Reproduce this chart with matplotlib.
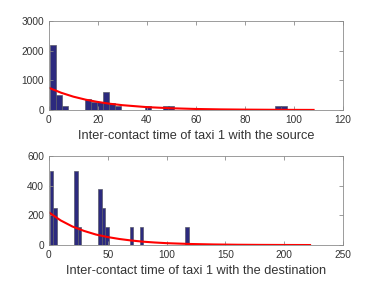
import numpy as np
import matplotlib
matplotlib.use('Agg')
import matplotlib.pyplot as plt

plt.rcParams['font.family'] = ['Liberation Sans', 'DejaVu Sans']

# top panel: histogram of inter-contact times with the source
src_centers = [1.6, 4.05, 6.45, 16.1, 18.5, 20.9, 23.4, 25.8, 28.2,
               40.3, 47.6, 50.0, 93.5, 95.9]
src_counts = [2200, 490, 130, 370, 260, 260, 610, 250, 140,
              130, 130, 130, 130, 130]
# fitted exponential
src_fit_x = [0, 5, 10, 15, 20, 25, 30, 40, 50, 60, 70, 80, 90, 100, 108]
src_fit_y = [750, 582, 450, 349, 271, 210, 163, 97, 59, 35, 21, 13, 8, 4.5, 3]

# bottom panel: inter-contact times with the destination
dst_centers = [2.2, 5.2, 22.9, 25.8, 43.4, 46.4, 49.3, 70.0, 78.8, 117.2]
dst_counts = [500, 250, 500, 125, 375, 250, 125, 125, 125, 125]
dst_fit_x = [0, 10, 20, 30, 40, 50, 60, 70, 80, 90, 100, 120, 140, 160, 180, 200, 222]
dst_fit_y = [220, 166, 125, 95, 71, 54, 41, 31, 23, 17.5, 13, 7.5, 4.3, 2.4, 1.4, 0.8, 0.4]

BAR_FC = '#2c2a7e'
BAR_EC = '#5a5a6a'
AX_C = '#8c8c8c'
TXT_C = '#333333'


def style_axes(ax):
    for s in ax.spines.values():
        s.set_color(AX_C)
        s.set_linewidth(0.6)
    ax.tick_params(direction='in', length=3, width=0.6, color=AX_C,
                   labelsize=7.3, labelcolor=TXT_C, top=True, right=True, pad=3.5)


fig = plt.figure(figsize=(3.79, 2.85), dpi=100)

ax1 = fig.add_axes([0.129, 0.614, 0.776, 0.312])
ax1.bar(src_centers, src_counts, width=2.42, color=BAR_FC, edgecolor=BAR_EC, linewidth=0.5)
ax1.plot(src_fit_x, src_fit_y, color='red', lw=1.5)
ax1.set_xlim(0, 120)
ax1.set_ylim(0, 3000)
ax1.set_xticks(range(0, 121, 20))
ax1.set_yticks(range(0, 3001, 1000))
ax1.set_xlabel('Inter-contact time of taxi 1 with the source', fontsize=9.2, color=TXT_C, labelpad=3.5)
style_axes(ax1)

ax2 = fig.add_axes([0.129, 0.140, 0.776, 0.313])
ax2.bar(dst_centers, dst_counts, width=2.95, color=BAR_FC, edgecolor=BAR_EC, linewidth=0.5)
ax2.plot(dst_fit_x, dst_fit_y, color='red', lw=1.5)
ax2.set_xlim(0, 250)
ax2.set_ylim(0, 600)
ax2.set_xticks(range(0, 251, 50))
ax2.set_yticks(range(0, 601, 200))
ax2.set_xlabel('Inter-contact time of taxi 1 with the destination', fontsize=9.2, color=TXT_C, labelpad=3.5)
style_axes(ax2)

fig.savefig('out.png', dpi=100)
